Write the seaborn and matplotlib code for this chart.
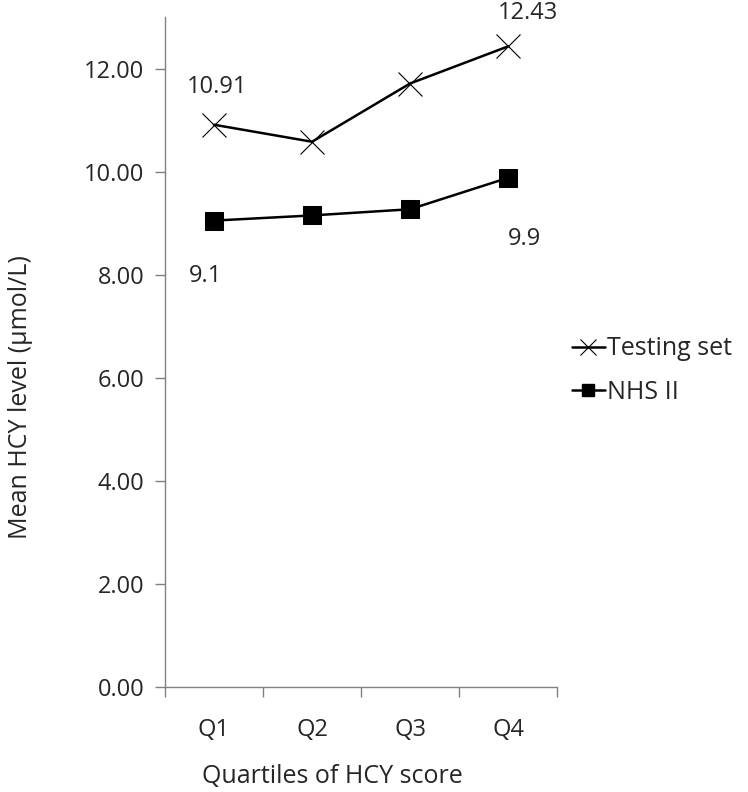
import matplotlib
matplotlib.use("Agg")
import matplotlib.pyplot as plt
from matplotlib.lines import Line2D
import pandas as pd
import seaborn as sns

quartiles = ["Q1", "Q2", "Q3", "Q4"]
testing_set = [10.91, 10.58, 11.71, 12.43]
nhs_ii = [9.05, 9.15, 9.27, 9.88]
y_ticks = [0, 2, 4, 6, 8, 10, 12]

sns.set_style("white")
plt.rcParams["font.family"] = ["Open Sans", "DejaVu Sans"]

df = pd.DataFrame({"pos": range(len(quartiles)), "quartile": quartiles,
                   "testing": testing_set, "nhs": nhs_ii})

fig = plt.figure(figsize=(7.48, 7.92), dpi=100)
ax = fig.add_axes([0.2206, 0.1326, 0.5241, 0.8459])

sns.lineplot(data=df, x="pos", y="testing", ax=ax, color="black", linewidth=1.8,
             marker="x", markersize=17, markeredgewidth=0.8, markeredgecolor="black")
sns.lineplot(data=df, x="pos", y="nhs", ax=ax, color="black", linewidth=1.8,
             marker="s", markersize=13, markeredgecolor="black", markerfacecolor="black")

fs = 17
# value labels
ax.annotate(f"{testing_set[0]:.2f}", (0, testing_set[0]), xytext=(2, 27), textcoords="offset points",
            ha="center", va="center", fontsize=fs)
ax.annotate(f"{testing_set[3]:.2f}", (3, testing_set[3]), xytext=(14, 24), textcoords="offset points",
            ha="center", va="center", fontsize=fs)
ax.annotate("9.1", (0, nhs_ii[0]), xytext=(-6, -40), textcoords="offset points",
            ha="center", va="center", fontsize=fs)
ax.annotate("9.9", (3, nhs_ii[3]), xytext=(12, -44), textcoords="offset points",
            ha="center", va="center", fontsize=fs)

ax.set_xlim(-0.5, 3.5)
ax.set_ylim(0, 13)
ax.set_xticks(range(len(quartiles)))
ax.set_xticklabels(quartiles, fontsize=fs)
ax.set_xticks([i - 0.5 for i in range(len(quartiles) + 1)], minor=True)
ax.tick_params(axis="x", which="major", length=0, pad=22)
ax.tick_params(axis="x", which="minor", length=7, width=1, color="#808080", direction="out", bottom=True)
ax.set_yticks(y_ticks)
ax.set_yticklabels([f"{v:.2f}" for v in y_ticks], fontsize=fs)
ax.tick_params(axis="y", length=7, width=1, color="#808080", direction="out", left=True, pad=8)

for s in ["top", "right"]:
    ax.spines[s].set_visible(False)
for s in ["left", "bottom"]:
    ax.spines[s].set_color("#808080")
    ax.spines[s].set_linewidth(1)

ax.set_xlabel("Quartiles of HCY score", fontsize=18)
ax.set_ylabel("Mean HCY level (µmol/L)", fontsize=18)
ax.xaxis.set_label_coords(0.426, -0.115)
ax.yaxis.set_label_coords(-0.336, 0.433)

handles = [
    Line2D([], [], color="black", linewidth=1.8, marker="x", markersize=11, markeredgewidth=0.8),
    Line2D([], [], color="black", linewidth=1.8, marker="s", markersize=8),
]
fig.legend(handles, ["Testing set", "NHS II"], loc="center left", bbox_to_anchor=(0.765, 0.532),
           frameon=False, fontsize=18, handlelength=1.3, handletextpad=0.1, labelspacing=0.75,
           borderpad=0, borderaxespad=0)

fig.savefig("out.png", dpi=100)
